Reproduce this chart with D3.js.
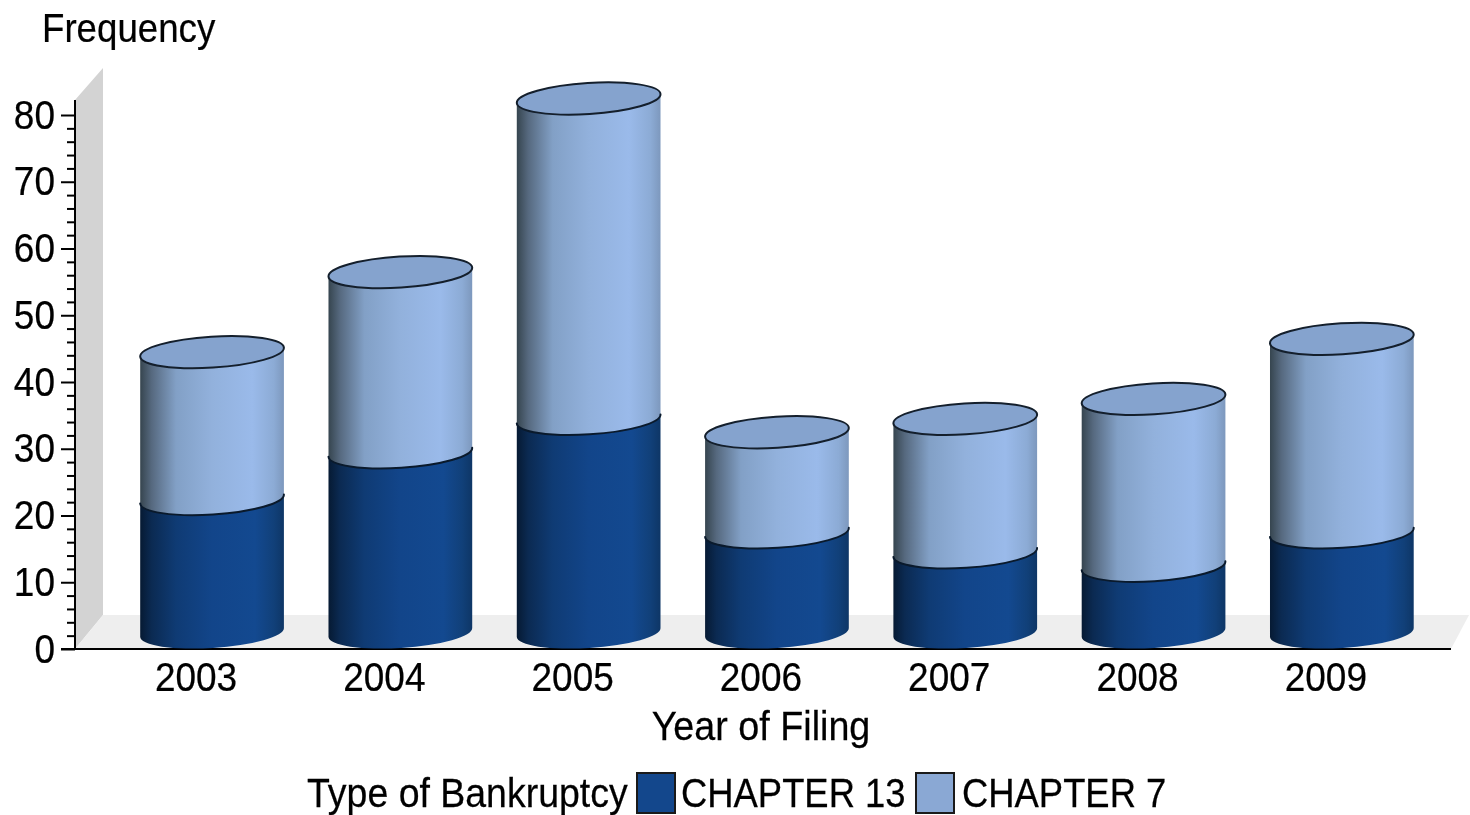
<!DOCTYPE html>
<html>
<head>
<meta charset="utf-8">
<script src="https://cdn.jsdelivr.net/npm/d3@7"></script>
<style>
    html, body { margin: 0; padding: 0; background: #fff; }
    svg { display: block; }
    /* reference type is tall and narrow, so a bigger font squeezed sideways */
    text {
        font-family: "Liberation Sans", Arial, sans-serif;
        font-size: 41px;
        fill: #000;
        stroke: #000;
        stroke-width: 0.25px;
        transform-box: fill-box;
    }
</style>
</head>
<body>
<script>
var years = ["2003", "2004", "2005", "2006", "2007", "2008", "2009"];
var chapter13 = [20, 27, 32, 15, 12, 10, 15];
var chapter7 = [22, 27, 48, 15, 20, 25, 29];
var majorTicks = [0, 10, 20, 30, 40, 50, 60, 70, 80];
var minorTicks = d3.range(0, 81, 2).filter(function (d) { return d % 10 != 0; });
var seriesNames = ["CHAPTER 13", "CHAPTER 7"];

var width = 1470;
var height = 815;
var axisX = 75;
var depthX = 28;
var depthY = 34;
var rx = 72;
var ry = 15.5;
var tilt = 3.6; // the ellipses lean up to the right
var cylOffset = 16; // cylinders sit behind the labels because of the 3d shift
var squeeze = 0.9024;

var yScale = d3.scaleLinear().domain([0, 80]).range([649, 115]);
var xScale = d3.scaleBand().domain(years).range([101.9, 1420]);

var svg = d3.select("body").append("svg")
    .attr("width", width)
    .attr("height", height);

var defs = svg.append("defs");

function addGradient(id, stops) {
    var g = defs.append("linearGradient").attr("id", id);
    stops.forEach(function (s) {
        g.append("stop").attr("offset", s[0]).attr("stop-color", s[1]);
    });
}
addGradient("dark", [[0, "#061a33"], [0.08, "#0b2a52"], [0.25, "#0f3b74"], [0.5, "#12458a"], [0.8, "#134990"], [0.93, "#114079"], [1, "#0e3666"]]);
addGradient("light", [[0, "#36454f"], [0.08, "#56697f"], [0.25, "#82a0c6"], [0.5, "#92b1dc"], [0.78, "#9abaea"], [0.93, "#8cabd5"], [1, "#7d98bd"]]);

var chart = svg.append("g").style("filter", "blur(0.6px)");

function squeezeText(sel, origin, sx) {
    sel.style("transform-origin", origin + " center")
        .style("transform", `scaleX(${sx || squeeze})`);
}

// back wall and floor
var floorY = yScale(0) - depthY;
chart.append("path")
    .attr("d", `M${axisX} ${yScale(0)}L${axisX} 100L${axisX + depthX} 68L${axisX + depthX} ${floorY}Z`)
    .attr("fill", "#d3d3d3");
chart.append("path")
    .attr("d", `M${axisX} ${yScale(0)}L${axisX + depthX} ${floorY}L1469 ${floorY}L1451 ${yScale(0)}Z`)
    .attr("fill", "#eeeeee");

// axes
var yAxisMajor = d3.axisLeft(yScale).tickValues(majorTicks).tickSize(14).tickPadding(6).tickSizeOuter(0);
var yAxisMinor = d3.axisLeft(yScale).tickValues(minorTicks).tickSize(8).tickFormat("");

var yMinorG = chart.append("g").attr("transform", `translate(${axisX} 0)`).call(yAxisMinor);
yMinorG.select(".domain").remove();
yMinorG.selectAll("line").attr("stroke-width", 2);

var yG = chart.append("g").attr("transform", `translate(${axisX} 0)`).call(yAxisMajor);
yG.select(".domain").remove();
yG.selectAll("line").attr("stroke-width", 2);
yG.selectAll("text").style("font-size", "41px").attr("font-family", null);
squeezeText(yG.selectAll("text"), "right");

chart.append("line")
    .attr("x1", axisX).attr("x2", axisX)
    .attr("y1", 100).attr("y2", yScale(0))
    .attr("stroke", "#000").attr("stroke-width", 2);
chart.append("line")
    .attr("x1", axisX - 14).attr("x2", 1451)
    .attr("y1", yScale(0)).attr("y2", yScale(0))
    .attr("stroke", "#000").attr("stroke-width", 2);

var xG = chart.append("g").attr("transform", `translate(0 ${yScale(0)})`)
    .call(d3.axisBottom(xScale).tickSize(0).tickPadding(13));
xG.select(".domain").remove();
xG.selectAll("text").style("font-size", "41px").attr("font-family", null);
squeezeText(xG.selectAll("text"), "center");

// one cylinder slice, value range v0..v1
var rad = tilt * Math.PI / 180;
var dx = rx * Math.cos(rad);
var dy = rx * Math.sin(rad);

function centerY(v) {
    return yScale(v) - ry - 1; // scale value is the front edge of the ellipse
}

function slicePath(cx, v0, v1) {
    var yb = centerY(v0);
    var yt = centerY(v1);
    return `M${cx - dx} ${yt + dy}` +
        `L${cx - dx} ${yb + dy}` +
        `A${rx} ${ry} ${-tilt} 0 0 ${cx + dx} ${yb - dy}` +
        `L${cx + dx} ${yt - dy}` +
        `A${rx} ${ry} ${-tilt} 0 1 ${cx - dx} ${yt + dy}Z`;
}

function frontArc(cx, v) {
    var yc = centerY(v);
    return `M${cx - dx} ${yc + dy}A${rx} ${ry} ${-tilt} 0 0 ${cx + dx} ${yc - dy}`;
}

var bars = chart.selectAll("g.cyl")
    .data(years)
    .enter().append("g")
    .attr("class", "cyl");

function cx(d) {
    return xScale(d) + xScale.bandwidth() / 2 + cylOffset;
}

bars.append("path")
    .attr("d", function (d, i) { return slicePath(cx(d), 0, chapter13[i]); })
    .attr("fill", "url(#dark)");

bars.append("path")
    .attr("d", function (d, i) { return slicePath(cx(d), chapter13[i], chapter13[i] + chapter7[i]); })
    .attr("fill", "url(#light)");

// seam between the two segments
bars.append("path")
    .attr("d", function (d, i) { return frontArc(cx(d), chapter13[i]); })
    .attr("fill", "none")
    .attr("stroke", "#0a1a2c")
    .attr("stroke-width", 2)
    .attr("stroke-linecap", "round");

// lid
bars.append("ellipse")
    .attr("cx", 0)
    .attr("cy", 0)
    .attr("rx", rx)
    .attr("ry", ry)
    .attr("transform", function (d, i) {
        return `translate(${cx(d)} ${centerY(chapter13[i] + chapter7[i])}) rotate(${-tilt})`;
    })
    .attr("fill", "#85a3ce")
    .attr("stroke", "#141f2c")
    .attr("stroke-width", 2);

// titles
squeezeText(chart.append("text").attr("x", 42).attr("y", 42).text("Frequency"), "left", 0.895);
squeezeText(chart.append("text").attr("x", 761).attr("y", 740).attr("text-anchor", "middle").text("Year of Filing"), "center", 0.92);

// legend
squeezeText(chart.append("text").attr("x", 307).attr("y", 807).text("Type of Bankruptcy"), "left", 0.914);

var legendX = [637, 916];
var legendFills = ["#13478c", "#8aa8d4"];
var legendTextX = [681, 962];

seriesNames.forEach(function (name, i) {
    chart.append("rect")
        .attr("x", legendX[i]).attr("y", 773)
        .attr("width", 38).attr("height", 40)
        .attr("fill", legendFills[i])
        .attr("stroke", "#1a1a1a").attr("stroke-width", 2);
    squeezeText(chart.append("text").attr("x", legendTextX[i]).attr("y", 807).text(name), "left", 0.888);
});
</script>
</body>
</html>
